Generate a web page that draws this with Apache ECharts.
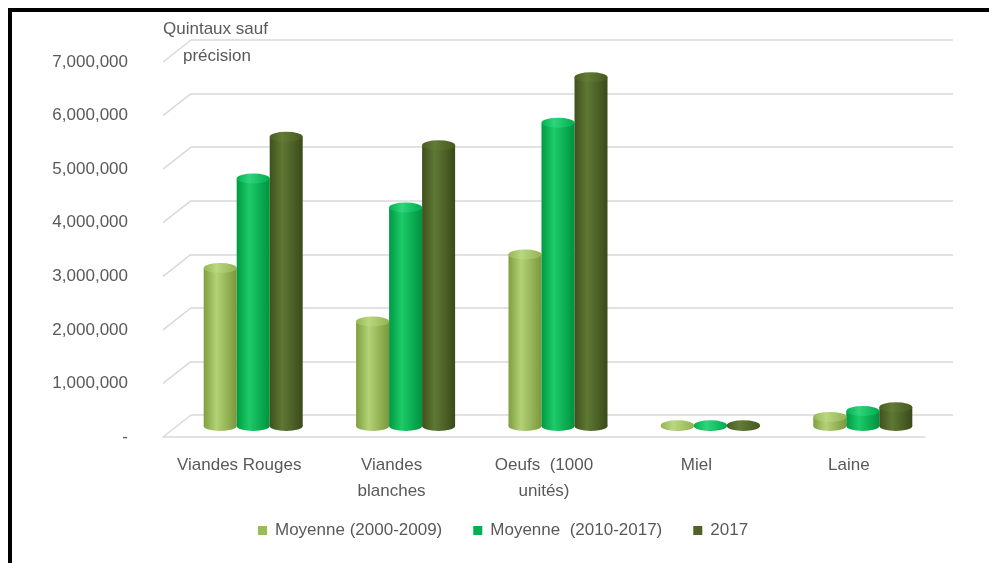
<!DOCTYPE html>
<html>
<head>
<meta charset="utf-8">
<script src="https://cdn.jsdelivr.net/npm/echarts@6/dist/echarts.min.js"></script>
<style>html,body{margin:0;padding:0;background:#fff;}#c{width:989px;height:563px;}</style>
</head>
<body>
<div id="c"></div>
<script>
const categories = ['Viandes Rouges', 'Viandes\nblanches', 'Oeufs  (1000\nunités)', 'Miel', 'Laine'];
const seriesNames = ['Moyenne (2000-2009)', 'Moyenne  (2010-2017)', '2017'];
const moy0009 = [2950000, 1950000, 3200000, 12000, 170000];
const moy1017 = [4620000, 4080000, 5660000, 15000, 280000];
const val2017 = [5400000, 5240000, 6510000, 14000, 350000];
const yTickValues = [0, 1000000, 2000000, 3000000, 4000000, 5000000, 6000000, 7000000];
const yTickLabels = ['-', '1,000,000', '2,000,000', '3,000,000', '4,000,000', '5,000,000', '6,000,000', '7,000,000'];
const yAxisTitle1 = 'Quintaux sauf';
const yAxisTitle2 = 'précision';

const values = [moy0009, moy1017, val2017];
const TXT = '#595959';
const FONT = 'Liberation Sans, Arial, sans-serif';
const GRIDC = '#d9d9d9';
const BW = 33;

function grad(stops) {
  return { type: 'linear', x: 0, y: 0, x2: 1, y2: 0,
    colorStops: stops.map((c, i) => ({ offset: [0, 0.38, 1][i], color: c })) };
}
const bodyCol = [
  grad(['#7f9e3e', '#b3d276', '#7a983b']),
  grad(['#009a42', '#1ccb69', '#00923f']),
  grad(['#3f511c', '#5f7834', '#3a4a1a'])
];
const capCol = [
  grad(['#96b656', '#b9d77f', '#93b352']),
  grad(['#00b252', '#30d47a', '#00ad50']),
  grad(['#4a5e23', '#627b36', '#46591f'])
];
const solid = ['#9bbb59', '#00b050', '#4f6228'];

const W = 762, H = 375;
const grids = [
  { left: 191, top: 40, width: W, height: H },  // back wall
  { left: 177, top: 51, width: W, height: H },  // bars (mid depth)
  { left: 163, top: 62, width: W, height: H }   // front (labels)
];
const yBase = { type: 'value', min: 0, max: 7000000, interval: 1000000 };

const series = [];
values.forEach((arr, i) => {
  series.push({
    type: 'bar', name: seriesNames[i], xAxisIndex: 1, yAxisIndex: 1,
    data: arr, barWidth: BW, barGap: '0%', z: 3,
    itemStyle: { color: bodyCol[i] }
  });
});
values.forEach((arr, i) => {
  const dx = (i - 1) * BW;
  series.push({
    type: 'pictorialBar', name: seriesNames[i], xAxisIndex: 1, yAxisIndex: 1,
    data: arr, barWidth: BW, barGap: '-100%', z: 2,
    symbol: 'circle', symbolSize: [BW, 10], symbolPosition: 'start', symbolOffset: [dx, '50%'],
    itemStyle: { color: bodyCol[i] }, silent: true
  });
  series.push({
    type: 'pictorialBar', name: seriesNames[i], xAxisIndex: 1, yAxisIndex: 1,
    data: arr, barWidth: BW, barGap: '-100%', z: 4,
    symbol: 'circle', symbolSize: [BW, 10], symbolPosition: 'end', symbolOffset: [dx, '-50%'],
    itemStyle: { color: capCol[i] }, silent: true
  });
});
series.push({
  type: 'custom', xAxisIndex: 2, yAxisIndex: 2, clip: false, silent: true, z: 1,
  data: yTickValues.map(v => [0, v]),
  encode: { x: 0, y: 1 },
  renderItem: function (params, api) {
    const y = api.coord([0, api.value(1)])[1];
    const x = params.coordSys.x;
    return { type: 'line', shape: { x1: x, y1: y, x2: x + 28, y2: y - 22 },
      style: { stroke: GRIDC, lineWidth: 1.5 } };
  }
});

const option = {
  animation: false,
  backgroundColor: '#fff',
  textStyle: { fontFamily: FONT },
  grid: grids,
  xAxis: [
    { type: 'category', data: categories, gridIndex: 0, show: false },
    { type: 'category', data: categories, gridIndex: 1, show: false },
    { type: 'category', data: categories, gridIndex: 2,
      axisTick: { show: false },
      axisLine: { show: true, lineStyle: { color: GRIDC, width: 1.5 } },
      axisLabel: { color: TXT, fontSize: 17, fontFamily: FONT, margin: 15, lineHeight: 26, interval: 0 } }
  ],
  yAxis: [
    Object.assign({ gridIndex: 0, axisLabel: { show: false }, axisLine: { show: false }, axisTick: { show: false },
      splitLine: { show: true, lineStyle: { color: GRIDC, width: 1.5 } } }, yBase),
    Object.assign({ gridIndex: 1, show: false, splitLine: { show: false } }, yBase),
    Object.assign({ gridIndex: 2, axisLine: { show: false }, axisTick: { show: false }, splitLine: { show: false },
      axisLabel: { color: TXT, fontSize: 17, fontFamily: FONT, margin: 35,
        formatter: v => yTickLabels[yTickValues.indexOf(v)] } }, yBase)
  ],
  legend: {
    left: 253, top: 517, itemWidth: 9, itemHeight: 9, itemGap: 31, icon: 'rect',
    textStyle: { color: TXT, fontSize: 17, fontFamily: FONT, padding: [0, 0, 0, 3] },
    data: seriesNames.map((n, i) => ({ name: n, itemStyle: { color: solid[i] } }))
  },
  graphic: [
    { type: 'text', left: 163, top: 21, style: { text: yAxisTitle1, fill: TXT, font: '17px ' + FONT } },
    { type: 'text', left: 183, top: 48, style: { text: yAxisTitle2, fill: TXT, font: '17px ' + FONT } },
    { type: 'line', shape: { x1: 8, y1: 10, x2: 989, y2: 10 }, style: { stroke: '#000', lineWidth: 4 } },
    { type: 'line', shape: { x1: 10, y1: 8, x2: 10, y2: 563 }, style: { stroke: '#000', lineWidth: 4 } }
  ],
  series: series
};
const chart = echarts.init(document.getElementById('c'), null, { renderer: 'canvas' });
chart.setOption(option);
</script>
</body>
</html>
